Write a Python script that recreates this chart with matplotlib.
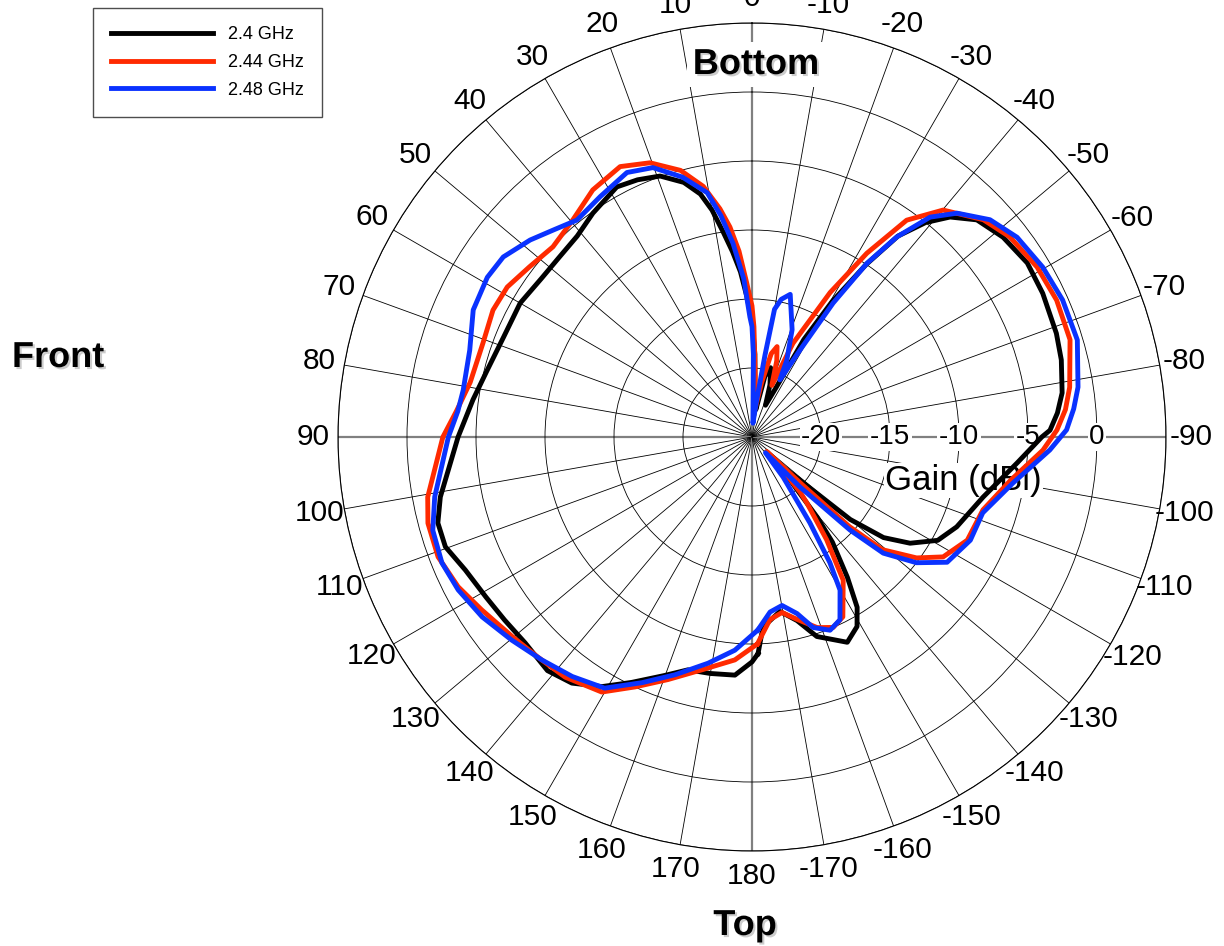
import numpy as np
import matplotlib.pyplot as plt
import matplotlib.patheffects as pe

plt.rcParams['font.family'] = ['Liberation Sans', 'DejaVu Sans']

# angle in degrees (0 = up, positive = counter-clockwise) and gain in dBi
ang_240 = [-178.4, -176.7, -170.9, -166.2, -162, -155.1, -151, -148.3, -145.8, -142.6,
           -140.9, -138.5, -136, -134, -131, -130, -127.4, -123.9, -119.1, -113.7,
           -104.6, -95.6, -90, -88.7, -85.5, -81.9, -76, -71.2, -63.7, -57.7,
           -51.5, -46, -42, -39, -36, -33.5, -30.6, -28, -26, -23,
           -19, -15, -12, -8, -4, -2, 0, 2, 4, 6,
           8, 10, 12, 15, 19.4, 24, 28.4, 35.4, 41, 47,
           53, 60, 68, 76, 82.4, 90, 100.9, 105.3, 109.7, 114.9,
           121, 126.5, 132.2, 138.8, 143.8, 149, 153.9, 159.9, 164.6, 170,
           175.9, 180]
gain_240 = [-9.3, -11.2, -12.2, -11.3, -9.8, -8.6, -9.3, -10.5, -12.7, -15.4,
            -17.5, -20.9, -23.5, -21.9, -18.8, -15.7, -13.0, -11.2, -9.6, -8.8,
            -7.7, -5.7, -4.0, -3.4, -2.8, -2.3, -1.9, -1.7, -1.5, -1.4,
            -1.75, -2.35, -3.55, -5.0, -7.0, -10.0, -13.6, -17.0, -21.0, -22.5,
            -21.0, -19.8, -20.5, -23.0, -22.0, -19.0, -16.5, -14.9, -13.0, -11.5,
            -10.0, -8.3, -7.0, -5.9, -4.95, -4.6, -4.4, -5.1, -5.7, -5.9,
            -5.9, -5.6, -5.6, -5.2, -4.6, -3.7, -2.0, -1.4, -1.4, -2.1,
            -2.5, -2.7, -2.8, -2.5, -2.9, -3.9, -5.2, -6.6, -7.5, -7.6,
            -7.7, -8.7]

ang_244 = [-178.5, -174.4, -170.3, -166.2, -161.1, -156.9, -153.2, -147.5, -144, -140.2,
           -138.9, -136.1, -134.5, -133.5, -132.6, -130.8, -126.3, -122.1, -115.6, -107.5,
           -99.5, -92.6, -88.7, -85, -81.1, -73, -65.8, -59.2, -52.2, -46.8,
           -40.1, -35.5, -32, -28.4, -23.6, -21, -18, -15.5, -13, -10,
           -6, -3, -1, 0, 2, 4, 6, 8, 11, 15,
           20.4, 26, 32.8, 39.5, 46.3, 52.6, 58.5, 63.9, 70.7, 79,
           85, 90, 100.5, 104.9, 110.9, 117, 122.6, 129.8, 135.8, 142.1,
           149.5, 154.9, 160.9, 167.9, 175.6]
gain_244 = [-10.0, -11.7, -12.1, -11.4, -10.4, -10.0, -10.4, -12.7, -15.8, -18.8,
            -19.7, -22.4, -23.5, -20.0, -15.4, -12.5, -10.2, -8.65, -7.7, -7.45,
            -6.0, -3.9, -2.9, -2.2, -1.7, -0.9, -0.8, -0.95, -1.35, -2.0,
            -3.5, -5.7, -9.3, -13.1, -17.6, -21.0, -19.2, -18.2, -18.8, -21.0,
            -23.0, -20.5, -17.0, -15.5, -13.8, -11.5, -9.7, -8.3, -6.5, -5.0,
            -3.8, -3.2, -3.7, -4.6, -5.05, -4.7, -4.2, -4.1, -4.35, -4.2,
            -3.5, -2.6, -1.1, -0.7, -0.65, -1.1, -1.75, -2.4, -2.75, -2.95,
            -3.55, -5.0, -6.4, -7.75, -8.8]

ang_248 = [-178.3, -174.1, -169.9, -165.7, -162.2, -158, -154.3, -150.1, -148.2, -146,
           -142.2, -139.5, -136.2, -133.5, -131.5, -127.4, -122.7, -115.3, -108.2, -100,
           -92.5, -88.7, -85, -81.3, -73.4, -66.2, -59.7, -53, -47.6, -42.5,
           -39, -35.9, -33.5, -31.2, -28.9, -26, -24.4, -20.5, -15, -12,
           -10, -9, -7, -4, -1, 0, 1, 3, 5.6, 8,
           10.4, 15, 20.2, 25.3, 32.3, 38.9, 43.9, 48.4, 54.1, 58.9,
           65.5, 72.9, 80.8, 85, 90, 100.7, 106.3, 112.1, 117.5, 123.7,
           130.2, 136.7, 143.1, 149.6, 155.9, 162.1, 169, 175.4]
gain_248 = [-11.0, -12.25, -12.6, -11.8, -10.5, -9.9, -10.3, -12.2, -14.3, -17.5,
            -21.3, -23.5, -20.0, -15.2, -12.3, -10.0, -8.2, -7.5, -7.4, -5.8,
            -3.4, -2.2, -1.6, -1.1, -0.4, -0.4, -0.6, -0.95, -1.65, -3.0,
            -4.5, -7.1, -9.9, -13.65, -17.8, -20.4, -18.9, -16.7, -14.3, -14.8,
            -15.6, -19.0, -22.5, -24.0, -19.0, -17.0, -16.3, -13.5, -10.9, -8.8,
            -7.0, -5.5, -4.2, -3.8, -4.4, -4.8, -4.2, -3.5, -2.75, -2.6,
            -2.8, -3.6, -3.8, -3.6, -3.0, -1.6, -0.9, -0.75, -1.0, -1.5,
            -2.2, -2.8, -3.3, -3.9, -5.5, -6.9, -8.3, -9.5]

labels = ['2.4 GHz', '2.44 GHz', '2.48 GHz']
colors = ['black', '#ff2a00', '#0a32ff']
r_ticks = [-20, -15, -10, -5, 0]

fig = plt.figure(figsize=(12.24, 9.46), dpi=100)
ax = fig.add_axes([338 / 1224, 95 / 946, 828 / 1224, 828 / 946], projection='polar')
ax.set_theta_zero_location('N')
ax.set_theta_direction(1)
ax.set_rlim(-25, 5)
ax.set_rticks(r_ticks + [5])
ax.set_yticklabels([])

tgrid = np.arange(0, 360, 10)
ax.set_thetagrids(tgrid, [str(a if a <= 180 else a - 360) for a in tgrid], fontsize=21.5)
ax.tick_params(axis='x', pad=7.5)
ax.grid(color='black', lw=0.6)
for a, gl in zip(tgrid, ax.xaxis.get_gridlines()):
    if a % 90 == 0:
        gl.set_color('0.5')
        gl.set_linewidth(1.6)
ax.spines['polar'].set_color('black')
ax.spines['polar'].set_linewidth(0.8)

for ang, gain, lab, col in zip([ang_240, ang_244, ang_248],
                               [gain_240, gain_244, gain_248], labels, colors):
    th = np.deg2rad(np.r_[ang, ang[0] + 360])
    r = np.clip(np.r_[gain, gain[0]], -25, None)
    ax.plot(th, r, color=col, lw=3.5, label=lab, zorder=2)

box = dict(fc='white', ec='none', pad=1)
for v in r_ticks:
    ax.text(np.deg2rad(-90), v, str(v), ha='center', va='center', fontsize=20,
            bbox=box, zorder=1.8)

ax.text(885 / 1224, 1 - 490 / 946, 'Gain (dBi)', transform=fig.transFigure,
        ha='left', va='baseline', fontsize=25, bbox=box, zorder=1.8)

shadow = [pe.SimplePatchShadow(offset=(1.5, -1.5), shadow_rgbFace='0.5', alpha=0.4), pe.Normal()]
ax.text(756 / 1224, 1 - 74 / 946, 'Bottom', transform=fig.transFigure, ha='center',
        va='baseline', fontsize=26, fontweight='bold', path_effects=shadow,
        bbox=dict(fc='white', ec='none', pad=4), zorder=1.8)
fig.text(745 / 1224, 1 - 935 / 946, 'Top', ha='center', va='baseline', fontsize=26,
         fontweight='bold', path_effects=shadow)
fig.text(12 / 1224, 1 - 367 / 946, 'Front', ha='left', va='baseline', fontsize=26,
         fontweight='bold', path_effects=shadow)

leg = fig.legend(loc='upper left', bbox_to_anchor=(93 / 1224, 1 - 8 / 946), borderaxespad=0,
                 fancybox=False, edgecolor='0.3', framealpha=1, fontsize=13,
                 handlelength=5.65, handletextpad=0.85, labelspacing=0.6, borderpad=1.0)
leg.get_frame().set_linewidth(1.0)

fig.savefig('out.png', dpi=100)
